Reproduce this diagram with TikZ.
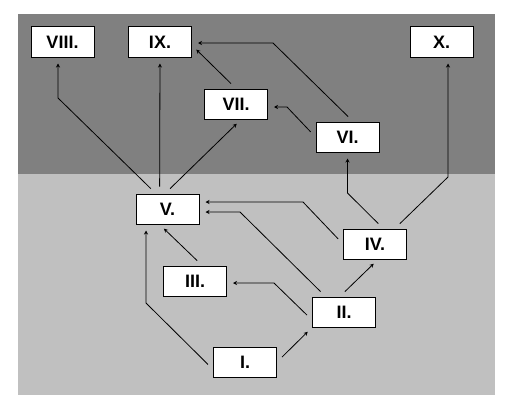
\documentclass[tikz,border=0pt]{standalone}
\usepackage{fontspec}
\setmainfont{Liberation Sans}
\usetikzlibrary{arrows.meta,positioning}
\definecolor{upperband}{RGB}{128,128,128}
\definecolor{lowerband}{RGB}{192,192,192}

\begin{document}
\begin{tikzpicture}[x=1bp, y=1bp,
    level/.style={draw, fill=white, line width=1bp, minimum width=63bp, minimum height=30bp, inner sep=0pt, font=\fontsize{18bp}{20bp}\selectfont\bfseries},
    link/.style={-{Stealth[length=4bp,width=4bp]}, line width=0.8bp, shorten <=7bp, shorten >=6bp}
]
\useasboundingbox (0,0) rectangle (516,413);
\fill[white] (0,0) rectangle (516,413);
\fill[lowerband] (18,18) rectangle (495,239);
\fill[upperband] (18,239) rectangle (495,399);

\node[level] (l1) at (245,51) {I.};
\node[level] (l2) at (344,101) {II.};
\node[level] (l3) at (195,132) {III.};
\node[level] (l4) at (375,169) {IV.};
\node[level] (l5) at (167.5,204) {V.};
\node[level] (l6) at (347.5,276) {VI.};
\node[level] (l7) at (236,309) {VII.};
\node[level] (l8) at (62.5,371) {VIII.};
\node[level] (l9) at (160,371) {IX.};
\node[level] (l10) at (441.5,371) {X.};

% bends
\coordinate (k1) at (146,110);
\coordinate (k3) at (274,130);
\coordinate (k4) at (240,201);
\coordinate (k7) at (303,211);
\coordinate (k8) at (347.5,220);
\coordinate (k9) at (448,236);
\coordinate (k10) at (287,306);
\coordinate (k11) at (273,370);
\coordinate (k13) at (58,315);

\draw[link] (l1.193) -- (k1) -- (k1 |- l5.south);
\draw[link] (l1.east) -- (l2.south west);
\draw[link] (l2.194) -- (k3) -- (k3 -| l3.east);
\draw[link] (l2.140) -- (k4) -- (k4 -| l5.east);
\draw[link] (l2.105) -- (l4.281);
\draw[link] (l3.65) -- (l5.243);
\draw[link] (l4.west) -- (k7) -- (k7 -| l5.east);
\draw[link] (l4.62) -- (k8) -- (l6.south);
\draw[link] (l4.38) -- (k9) -- (k9 |- l10.south);
\draw[link] (l6.west) -- (k10) -- (k10 -| l7.east);
\draw[link] (l6.70) -- (k11) -- (k11 -| l9.east);
\draw[link] (l7.north) -- (l9.354);
\draw[link] (l5.127) -- (k13) -- (k13 |- l8.south);
\draw[link] (l5.117) -- (l9.south);
\draw[link] (l5.99) -- (l7.288);
\end{tikzpicture}
\end{document}
